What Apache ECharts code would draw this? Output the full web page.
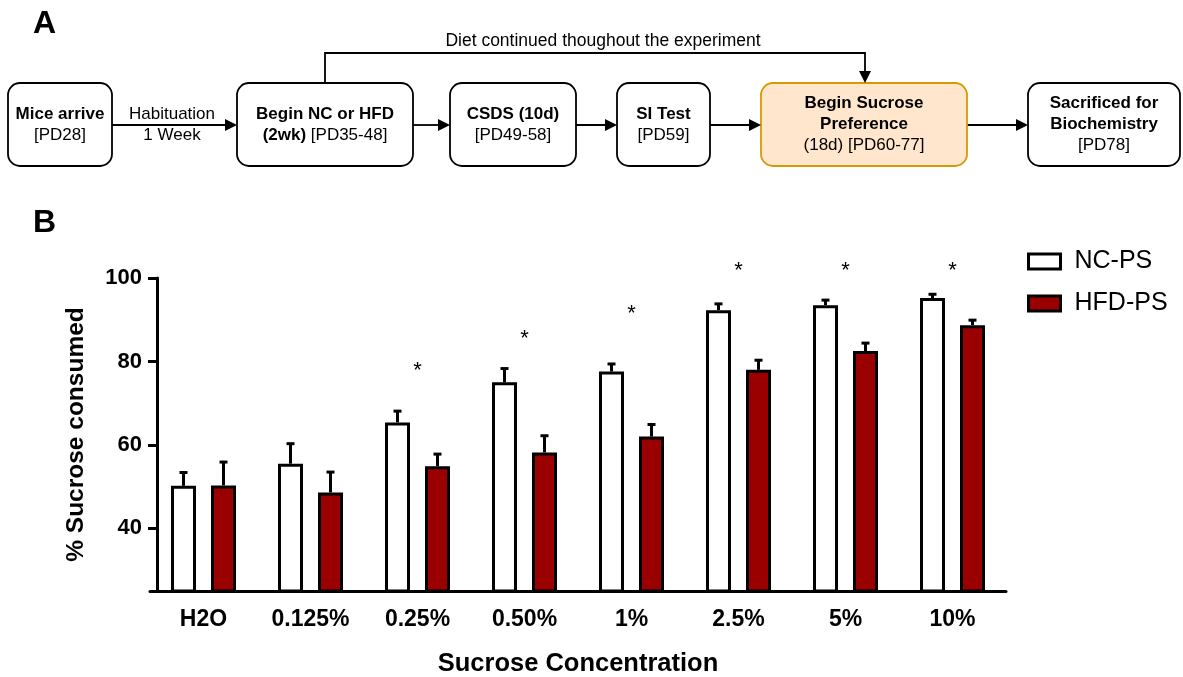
<!DOCTYPE html>
<html>
<head>
<meta charset="utf-8">
<script src="https://cdn.jsdelivr.net/npm/echarts@6/dist/echarts.min.js"></script>
<style>
  html, body { margin: 0; padding: 0; background: #fff; }
  #main { width: 1183px; height: 677px; }
</style>
</head>
<body>
<div id="main"></div>
<script>
// panel B data
var categories = ['H2O', '0.125%', '0.25%', '0.50%', '1%', '2.5%', '5%', '10%'];
var ncMean = [50.2, 55.5, 65.4, 75.0, 77.6, 92.3, 93.5, 95.2];
var ncErr = [3.2, 4.8, 2.7, 3.3, 1.8, 1.5, 1.2, 0.9];
var hfdMean = [50.3, 48.6, 54.9, 58.2, 62.0, 78.0, 82.5, 88.7];
var hfdErr = [5.6, 4.9, 2.9, 4.0, 2.9, 2.3, 1.9, 1.2];
// where the significance star sits (y value), null = none
var starAt = [null, null, 77.8, 85.3, 91.3, 101.6, 101.6, 101.6];
var yTicks = [40, 60, 80, 100];

var FONT = 'Liberation Sans, Arial, sans-serif';
var BAR_W = 25;
var BAR_GAP = 15;
var HFD_RED = '#9b0000';

// panel A flowchart
var boxes = [
  { x: 8, w: 104, text: '{b|Mice arrive}\n{n|[PD28]}' },
  { x: 237, w: 176, text: '{b|Begin NC or HFD}\n{b|(2wk)}{n| [PD35-48]}' },
  { x: 450, w: 126, text: '{b|CSDS (10d)}\n{n|[PD49-58]}' },
  { x: 617, w: 93, text: '{b|SI Test}\n{n|[PD59]}' },
  { x: 761, w: 206, text: '{b|Begin Sucrose}\n{b|Preference}\n{n|(18d) [PD60-77]}', fill: '#ffe6cc', stroke: '#d79b00' },
  { x: 1028, w: 152, text: '{b|Sacrificed for}\n{b|Biochemistry}\n{n|[PD78]}' }
];
var BOX_Y = 83, BOX_H = 83, ARROW_Y = 125;

function arrowHead(tx, ty, dir) {
  // dir: 'r' right, 'd' down
  var p = dir === 'r'
    ? [[tx, ty], [tx - 12, ty - 6], [tx - 12, ty + 6]]
    : [[tx, ty], [tx - 6, ty - 12], [tx + 6, ty - 12]];
  return { type: 'polygon', shape: { points: p }, style: { fill: '#000' }, z: 10 };
}

var graphics = [];
graphics.push({ type: 'text', style: { text: 'A', x: 33, y: 24, font: 'bold 32px ' + FONT, fill: '#000', verticalAlign: 'middle' } });
graphics.push({ type: 'text', style: { text: 'B', x: 33, y: 223, font: 'bold 32px ' + FONT, fill: '#000', verticalAlign: 'middle' } });

boxes.forEach(function (b, i) {
  graphics.push({
    type: 'rect',
    shape: { x: b.x, y: BOX_Y, width: b.w, height: BOX_H, r: 12 },
    style: { fill: b.fill || '#fff', stroke: b.stroke || '#000', lineWidth: 1.8 },
    z: 5
  });
  graphics.push({
    type: 'text',
    z: 6,
    style: {
      text: b.text,
      x: b.x + b.w / 2, y: BOX_Y + BOX_H / 2,
      align: 'center', verticalAlign: 'middle',
      rich: {
        b: { fontFamily: FONT, fontWeight: 'bold', fontSize: 17, lineHeight: 21, fill: '#000' },
        n: { fontFamily: FONT, fontSize: 17, lineHeight: 21, fill: '#000' }
      }
    }
  });
  if (i < boxes.length - 1) {
    var x1 = b.x + b.w, x2 = boxes[i + 1].x;
    graphics.push({ type: 'line', shape: { x1: x1, y1: ARROW_Y, x2: x2 - 8, y2: ARROW_Y }, style: { stroke: '#000', lineWidth: 1.8 }, z: 4 });
    graphics.push(arrowHead(x2, ARROW_Y, 'r'));
  }
});

graphics.push({ type: 'text', style: { text: 'Habituation\n1 Week', x: 172, y: 125, align: 'center', verticalAlign: 'middle', font: '17px ' + FONT, lineHeight: 21, fill: '#000' }, z: 6 });
graphics.push({
  type: 'polyline',
  shape: { points: [[325, BOX_Y], [325, 53], [865, 53], [865, BOX_Y - 8]] },
  style: { stroke: '#000', lineWidth: 1.8, fill: null },
  z: 4
});
graphics.push(arrowHead(865, BOX_Y, 'd'));
graphics.push({ type: 'text', style: { text: 'Diet continued thoughout the experiment', x: 603, y: 41, align: 'center', verticalAlign: 'middle', font: '17.5px ' + FONT, fill: '#000' }, z: 6 });

var chart = echarts.init(document.getElementById('main'), null, { renderer: 'canvas' });

function errBars(means, errs, shift) {
  return {
    type: 'custom',
    z: 5,
    silent: true,
    data: means.map(function (m, i) { return [i, m, errs[i]]; }),
    encode: { x: 0, y: 1 },
    renderItem: function (params, api) {
      var p0 = api.coord([api.value(0), api.value(1)]);
      var p1 = api.coord([api.value(0), api.value(1) + api.value(2)]);
      var x = p0[0] + shift;
      var st = { stroke: '#000', lineWidth: 3 };
      return {
        type: 'group',
        children: [
          { type: 'line', shape: { x1: x, y1: p0[1], x2: x, y2: p1[1] }, style: st },
          { type: 'line', shape: { x1: x - 4, y1: p1[1], x2: x + 4, y2: p1[1] }, style: st }
        ]
      };
    }
  };
}

var off = (BAR_W + BAR_GAP) / 2;

chart.setOption({
  backgroundColor: '#fff',
  animation: false,
  graphic: graphics,
  textStyle: { fontFamily: FONT },
  legend: {
    orient: 'vertical',
    left: 1022,
    top: 244,
    icon: 'rect',
    itemWidth: 32,
    itemHeight: 15,
    itemGap: 17,
    itemStyle: { borderWidth: 3, borderColor: '#000' },
    textStyle: { fontSize: 25, color: '#000', fontFamily: FONT, padding: [0, 0, 0, 9] },
    data: ['NC-PS', 'HFD-PS']
  },
  grid: { left: 150, top: 278, width: 856, height: 313, outerBoundsMode: 'none' },
  xAxis: {
    type: 'category',
    data: categories,
    axisLine: { lineStyle: { color: '#000', width: 3 } },
    axisTick: { alignWithLabel: true, length: 7, lineStyle: { color: '#000', width: 3 } },
    axisLabel: { color: '#000', fontSize: 23, fontWeight: 'bold', margin: 17, fontFamily: FONT },
    name: 'Sucrose Concentration',
    nameLocation: 'middle',
    nameGap: 60,
    nameTextStyle: { color: '#000', fontSize: 25.5, fontWeight: 'bold', fontFamily: FONT }
  },
  yAxis: {
    type: 'value',
    min: 25,
    max: 100,
    offset: -7,
    splitLine: { show: false },
    axisLine: { show: true, lineStyle: { color: '#000', width: 3 } },
    axisTick: { show: true, length: 9, customValues: yTicks, lineStyle: { color: '#000', width: 3 } },
    axisLabel: { color: '#000', fontSize: 22, fontWeight: 'bold', margin: 15, customValues: yTicks, fontFamily: FONT },
    name: '% Sucrose consumed',
    nameLocation: 'middle',
    nameGap: 68,
    nameTextStyle: { color: '#000', fontSize: 24.5, fontWeight: 'bold', fontFamily: FONT }
  },
  series: [
    {
      name: 'NC-PS',
      type: 'bar',
      data: ncMean,
      barWidth: BAR_W,
      barGap: (BAR_GAP / BAR_W * 100) + '%',
      itemStyle: { color: '#fff', borderColor: '#000', borderWidth: 3 },
      z: 3
    },
    {
      name: 'HFD-PS',
      type: 'bar',
      data: hfdMean,
      barWidth: BAR_W,
      itemStyle: { color: HFD_RED, borderColor: '#000', borderWidth: 3 },
      z: 3
    },
    errBars(ncMean, ncErr, -off),
    errBars(hfdMean, hfdErr, off),
    {
      type: 'custom',
      z: 6,
      silent: true,
      clip: false,
      data: starAt.map(function (v, i) { return [i, v]; }).filter(function (d) { return d[1] != null; }),
      encode: { x: 0, y: 1 },
      renderItem: function (params, api) {
        var p = api.coord([api.value(0), api.value(1)]);
        return {
          type: 'text',
          style: { text: '*', x: p[0], y: p[1], align: 'center', verticalAlign: 'middle', font: '22px ' + FONT, fill: '#000' }
        };
      }
    }
  ]
});
</script>
</body>
</html>
